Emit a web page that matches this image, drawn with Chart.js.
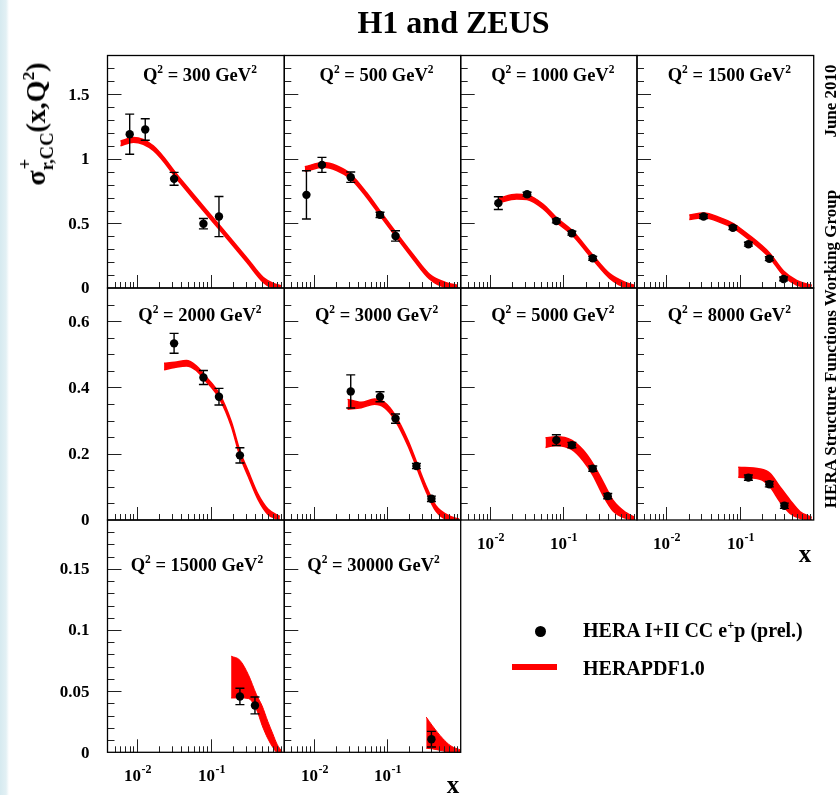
<!DOCTYPE html>
<html>
<head>
<meta charset="utf-8">
<script src="https://cdn.jsdelivr.net/npm/chart.js@4"></script>
<style>
  body { margin: 0; background: #fff; }
  #page {
    position: relative; width: 840px; height: 795px; overflow: hidden;
    background: linear-gradient(to right, #d6eaf0 0px, #e2f0f4 6px, #fff 9px);
    font-family: "Liberation Serif", "Times New Roman", serif; font-weight: bold; color: #000;
  }
  canvas { position: absolute; left: 0; top: 0; }
  .txt { position: absolute; white-space: nowrap; line-height: 1.107; }
  .sup { font-size: 0.62em; position: relative; top: -0.66em; }
  .ss { display: inline-block; position: relative; font-size: 0.66em; }
  .ss .up { position: absolute; left: 0.05em; top: -0.78em; }
  .ss .dn { position: relative; top: 0.42em; }
  .rot { position: absolute; white-space: nowrap; line-height: 1; transform: translate(-50%, -50%) rotate(-90deg); }
</style>
</head>
<body>
<div id="page"></div>
<script>
const W = 840, H = 795;
const X_MIN = 0.004, X_MAX = 1;

// panel labels
const q2Values = ['300', '500', '1000', '1500', '2000', '3000', '5000', '8000', '15000', '30000'];

// y axis per row
const rowYMax = [1.8, 0.7, 0.19];
const rowYMajor = [0.5, 0.2, 0.05];
const rowYMinor = [0.1, 0.05, 0.01];

// HERA I+II CC e+p data points
const d300_x = [0.008, 0.013, 0.032, 0.08, 0.13];
const d300_y = [1.191, 1.227, 0.845, 0.498, 0.553];
const d300_err = [0.155, 0.083, 0.05, 0.04, 0.155];
const d500_x = [0.008, 0.013, 0.032, 0.08, 0.13];
const d500_y = [0.721, 0.953, 0.858, 0.566, 0.403];
const d500_err = [0.187, 0.058, 0.04, 0.02, 0.04];
const d1000_x = [0.013, 0.032, 0.08, 0.13, 0.25];
const d1000_y = [0.657, 0.726, 0.519, 0.424, 0.230];
const d1000_err = [0.049, 0.015, 0.015, 0.015, 0.015];
const d1500_x = [0.032, 0.08, 0.13, 0.25, 0.39];
const d1500_y = [0.553, 0.467, 0.339, 0.227, 0.070];
const d1500_err = [0.015, 0.015, 0.015, 0.015, 0.015];
const d2000_x = [0.032, 0.08, 0.13, 0.25];
const d2000_y = [0.533, 0.430, 0.372, 0.195];
const d2000_err = [0.030, 0.021, 0.025, 0.023];
const d3000_x = [0.032, 0.08, 0.13, 0.25, 0.40];
const d3000_y = [0.388, 0.372, 0.306, 0.163, 0.064];
const d3000_err = [0.050, 0.015, 0.014, 0.008, 0.008];
const d5000_x = [0.08, 0.13, 0.25, 0.40];
const d5000_y = [0.241, 0.226, 0.155, 0.072];
const d5000_err = [0.016, 0.008, 0.008, 0.008];
const d8000_x = [0.13, 0.25, 0.40];
const d8000_y = [0.128, 0.108, 0.043];
const d8000_err = [0.008, 0.008, 0.008];
const d15000_x = [0.25, 0.40];
const d15000_y = [0.0457, 0.0383];
const d15000_err = [0.0067, 0.0069];
const d30000_x = [0.40];
const d30000_y = [0.0107];
const d30000_err = [0.0064];

// HERAPDF1.0 band (upper / lower edge)
const b300_x = [0.006, 0.009, 0.0167, 0.0387, 0.062, 0.109, 0.184, 0.31, 0.52, 0.71, 0.9];
const b300_hi = [1.138, 1.165, 1.101, 0.848, 0.708, 0.543, 0.390, 0.235, 0.080, 0.036, 0.018];
const b300_lo = [1.102, 1.129, 1.065, 0.812, 0.672, 0.507, 0.354, 0.199, 0.044, 0.002, 0.0];
const b500_x = [0.0076, 0.0135, 0.0206, 0.032, 0.0525, 0.08, 0.133, 0.224, 0.377, 0.634, 0.91];
const b500_hi = [0.938, 0.971, 0.946, 0.881, 0.739, 0.597, 0.429, 0.261, 0.106, 0.041, 0.021];
const b500_lo = [0.902, 0.935, 0.910, 0.845, 0.703, 0.561, 0.393, 0.225, 0.070, 0.005, 0.0];
const b1000_x = [0.013, 0.023, 0.032, 0.053, 0.08, 0.13, 0.25, 0.425, 0.71, 0.92];
const b1000_hi = [0.695, 0.726, 0.721, 0.648, 0.546, 0.448, 0.256, 0.111, 0.041, 0.021];
const b1000_lo = [0.659, 0.690, 0.685, 0.612, 0.510, 0.412, 0.220, 0.075, 0.005, 0.0];
const b1500_x = [0.0205, 0.032, 0.0535, 0.08, 0.131, 0.25, 0.39, 0.587, 0.94];
const b1500_hi = [0.566, 0.580, 0.545, 0.501, 0.412, 0.273, 0.132, 0.059, 0.021];
const b1500_lo = [0.530, 0.544, 0.509, 0.465, 0.376, 0.237, 0.096, 0.023, 0.0];
const b2000_x = [0.0234, 0.0326, 0.047, 0.064, 0.08, 0.133, 0.191, 0.25, 0.322, 0.44, 0.60, 0.87];
const b2000_hi = [0.473, 0.476, 0.481, 0.465, 0.441, 0.379, 0.297, 0.209, 0.149, 0.078, 0.033, 0.011];
const b2000_lo = [0.453, 0.460, 0.465, 0.451, 0.427, 0.365, 0.283, 0.193, 0.133, 0.062, 0.017, 0.0];
const b3000_x = [0.029, 0.0444, 0.0673, 0.092, 0.128, 0.193, 0.25, 0.336, 0.46, 0.736, 0.95];
const b3000_hi = [0.364, 0.355, 0.365, 0.355, 0.317, 0.239, 0.176, 0.104, 0.043, 0.010, 0.003];
const b3000_lo = [0.334, 0.339, 0.349, 0.339, 0.301, 0.223, 0.160, 0.088, 0.027, 0.0, 0.0];
const b5000_x = [0.057, 0.079, 0.129, 0.185, 0.25, 0.344, 0.47, 0.71, 0.93];
const b5000_hi = [0.248, 0.251, 0.241, 0.211, 0.171, 0.116, 0.060, 0.022, 0.008];
const b5000_lo = [0.219, 0.225, 0.213, 0.179, 0.136, 0.075, 0.028, 0.005, 0.0];
const b8000_x = [0.0946, 0.187, 0.255, 0.349, 0.478, 0.654, 0.94];
const b8000_hi = [0.159, 0.154, 0.141, 0.100, 0.060, 0.025, 0.008];
const b8000_lo = [0.129, 0.123, 0.100, 0.055, 0.020, 0.005, 0.0];
const b15000_x = [0.19, 0.25, 0.325, 0.42, 0.5, 0.6, 0.7, 0.8, 0.93];
const b15000_hi = [0.0786, 0.0753, 0.0636, 0.0471, 0.038, 0.025, 0.015, 0.0065, 0.0005];
const b15000_lo = [0.0444, 0.0445, 0.0440, 0.035, 0.022, 0.011, 0.004, 0.0, 0.0];
const b30000_x = [0.34, 0.414, 0.566, 0.736, 1.0];
const b30000_hi = [0.0288, 0.0216, 0.0115, 0.0052, 0.0019];
const b30000_lo = [0.0033, 0.0028, 0.0012, 0.0, 0.0];

const panels = [
  { row: 0, col: 0, x: d300_x, y: d300_y, err: d300_err, bx: b300_x, hi: b300_hi, lo: b300_lo },
  { row: 0, col: 1, x: d500_x, y: d500_y, err: d500_err, bx: b500_x, hi: b500_hi, lo: b500_lo },
  { row: 0, col: 2, x: d1000_x, y: d1000_y, err: d1000_err, bx: b1000_x, hi: b1000_hi, lo: b1000_lo },
  { row: 0, col: 3, x: d1500_x, y: d1500_y, err: d1500_err, bx: b1500_x, hi: b1500_hi, lo: b1500_lo },
  { row: 1, col: 0, x: d2000_x, y: d2000_y, err: d2000_err, bx: b2000_x, hi: b2000_hi, lo: b2000_lo },
  { row: 1, col: 1, x: d3000_x, y: d3000_y, err: d3000_err, bx: b3000_x, hi: b3000_hi, lo: b3000_lo },
  { row: 1, col: 2, x: d5000_x, y: d5000_y, err: d5000_err, bx: b5000_x, hi: b5000_hi, lo: b5000_lo, xLab: true },
  { row: 1, col: 3, x: d8000_x, y: d8000_y, err: d8000_err, bx: b8000_x, hi: b8000_hi, lo: b8000_lo, xLab: true },
  { row: 2, col: 0, x: d15000_x, y: d15000_y, err: d15000_err, bx: b15000_x, hi: b15000_hi, lo: b15000_lo, xLab: true },
  { row: 2, col: 1, x: d30000_x, y: d30000_y, err: d30000_err, bx: b30000_x, hi: b30000_hi, lo: b30000_lo, xLab: true },
];

// pad layout
const colEdges = [107.5, 284.3, 460.7, 637.0, 813.7];
const rowEdges = [55.5, 288, 520, 752.3];
const labelDrop = [26, 33, 51];
const labelShift = [4, 4, 1];

const page = document.getElementById('page');
const FONT = '"Liberation Serif", "Times New Roman", serif';

function addText(html, x, baseline, size, align) {
  const el = document.createElement('div');
  el.className = 'txt';
  el.innerHTML = html;
  el.style.fontSize = size + 'px';
  el.style.top = (baseline - 0.891 * size) + 'px';
  el.style.left = x + 'px';
  if (align === 'center') el.style.transform = 'translateX(-50%)';
  page.appendChild(el);
  return el;
}

function addRotated(html, cx, cy, size) {
  const el = document.createElement('div');
  el.className = 'rot';
  el.innerHTML = html;
  el.style.fontSize = size + 'px';
  el.style.left = cx + 'px';
  el.style.top = cy + 'px';
  page.appendChild(el);
}

// ROOT-like frame, inward ticks, tick labels and error bars
function rootFrame(p) {
  return {
    id: 'rootFrame',
    beforeDatasetDraw(chart, args) {
      if (args.index !== 0) return;
      const { ctx, scales: { x, y } } = chart;
      ctx.save();
      ctx.strokeStyle = '#000';
      ctx.lineWidth = 1.4;
      p.x.forEach((xv, i) => {
        const px = x.getPixelForValue(xv);
        const y1 = y.getPixelForValue(p.y[i] + p.err[i]);
        const y2 = y.getPixelForValue(Math.max(0, p.y[i] - p.err[i]));
        ctx.beginPath();
        ctx.moveTo(px, y1); ctx.lineTo(px, y2);
        ctx.moveTo(px - 4.5, y1); ctx.lineTo(px + 4.5, y1);
        ctx.moveTo(px - 4.5, y2); ctx.lineTo(px + 4.5, y2);
        ctx.stroke();
      });
      ctx.restore();
    },
    afterDraw(chart) {
      const { ctx, chartArea: a, scales: { x, y } } = chart;
      ctx.save();
      ctx.strokeStyle = '#222';
      ctx.lineWidth = 1;
      ctx.fillStyle = '#000';

      const minor = rowYMinor[p.row];
      const ratio = Math.round(rowYMajor[p.row] / minor);
      const n = Math.round(rowYMax[p.row] / minor);
      ctx.font = 'bold 17px ' + FONT;
      ctx.textAlign = 'right';
      ctx.textBaseline = 'middle';
      for (let k = 1; k < n; k++) {
        const py = Math.round(y.getPixelForValue(k * minor)) + 0.5;
        const len = k % ratio === 0 ? 14 : 7;
        ctx.beginPath(); ctx.moveTo(a.left, py); ctx.lineTo(a.left + len, py); ctx.stroke();
      }
      if (p.col === 0) {
        for (let k = 0; k < n; k += ratio) {
          const v = k * minor;
          ctx.fillText(String(+v.toFixed(3)), a.left - 18, y.getPixelForValue(v) + 1);
        }
      }

      for (let e = -3; e <= 0; e++) {
        for (let m = 1; m <= 9; m++) {
          const v = m * Math.pow(10, e);
          if (v <= X_MIN * 1.001 || v >= X_MAX * 0.999) continue;
          const px = Math.round(x.getPixelForValue(v)) + 0.5;
          const len = m === 1 ? 13 : 6;
          ctx.beginPath(); ctx.moveTo(px, a.bottom); ctx.lineTo(px, a.bottom - len); ctx.stroke();
          if (p.xLab && m === 1 && (e === -2 || e === -1)) {
            ctx.textBaseline = 'alphabetic';
            ctx.textAlign = 'left';
            ctx.font = 'bold 17px ' + FONT;
            const w1 = ctx.measureText('10').width;
            ctx.font = 'bold 12px ' + FONT;
            const sup = String(e);
            const w2 = ctx.measureText(sup).width;
            const x0 = px - (w1 + w2) / 2;
            ctx.font = 'bold 17px ' + FONT;
            ctx.fillText('10', x0, a.bottom + 29);
            ctx.font = 'bold 12px ' + FONT;
            ctx.fillText(sup, x0 + w1 + 0.5, a.bottom + 21);
          }
        }
      }

      ctx.strokeStyle = '#000';
      ctx.lineWidth = 1.3;
      ctx.strokeRect(a.left, a.top, a.right - a.left, a.bottom - a.top);
      ctx.restore();
    }
  };
}

function makePanel(p, i) {
  const canvas = document.createElement('canvas');
  canvas.width = W;
  canvas.height = H;
  page.appendChild(canvas);
  const left = colEdges[p.col], right = colEdges[p.col + 1];
  const top = rowEdges[p.row], bottom = rowEdges[p.row + 1];
  const thin = p.row === 2 ? 1 : 1.5;
  new Chart(canvas, {
    type: 'line',
    data: {
      datasets: [
        {
          label: 'HERA I+II CC e+p (prel.)',
          data: p.x.map((xv, k) => ({ x: xv, y: p.y[k] })),
          showLine: false,
          pointRadius: 4.2,
          pointBackgroundColor: '#000',
          pointBorderWidth: 0,
          order: 0
        },
        {
          label: 'HERAPDF1.0 up',
          data: p.bx.map((xv, k) => ({ x: xv, y: p.hi[k] })),
          borderColor: '#ff0000',
          borderWidth: thin,
          pointRadius: 0,
          cubicInterpolationMode: 'monotone',
          fill: false,
          order: 1
        },
        {
          label: 'HERAPDF1.0 down',
          data: p.bx.map((xv, k) => ({ x: xv, y: p.lo[k] })),
          borderColor: '#ff0000',
          backgroundColor: '#ff0000',
          borderWidth: thin,
          pointRadius: 0,
          cubicInterpolationMode: 'monotone',
          fill: '-1',
          order: 2
        }
      ]
    },
    options: {
      responsive: false,
      animation: false,
      events: [],
      layout: { padding: { left, top, right: W - right, bottom: H - bottom } },
      plugins: { legend: { display: false }, tooltip: { enabled: false } },
      scales: {
        x: { type: 'logarithmic', min: X_MIN, max: X_MAX, display: false },
        y: { type: 'linear', min: 0, max: rowYMax[p.row], display: false }
      }
    },
    plugins: [rootFrame(p)]
  });

  const cx = (left + right) / 2 + labelShift[p.row];
  addText('Q<span class="sup">2</span> = ' + q2Values[i] + ' GeV<span class="sup">2</span>',
    cx, top + labelDrop[p.row], 18.5, 'center');
}

panels.forEach(makePanel);

// texts
addText('H1 and ZEUS', 453.5, 34, 32, 'center');
addRotated('σ<span class="ss"><span class="up">+</span><span class="dn">r,CC</span></span>(x,Q<span class="sup">2</span>)', 36, 124, 28);
addText('x', 805, 562, 25, 'center');
addText('x', 453, 793, 25, 'center');
addRotated('June 2010', 830, 101, 17);
addRotated('HERA Structure Functions Working Group', 830, 349, 17);

// legend
const dot = document.createElement('div');
dot.style.cssText = 'position:absolute;left:534.5px;top:625.5px;width:11px;height:11px;border-radius:50%;background:#000;';
page.appendChild(dot);
const bar = document.createElement('div');
bar.style.cssText = 'position:absolute;left:512px;top:664px;width:45px;height:6px;background:#ff0000;';
page.appendChild(bar);
addText('HERA I+II CC e<span class="sup">+</span>p (prel.)', 583, 637, 20, 'left');
addText('HERAPDF1.0', 583, 675, 20, 'left');
</script>
</body>
</html>
